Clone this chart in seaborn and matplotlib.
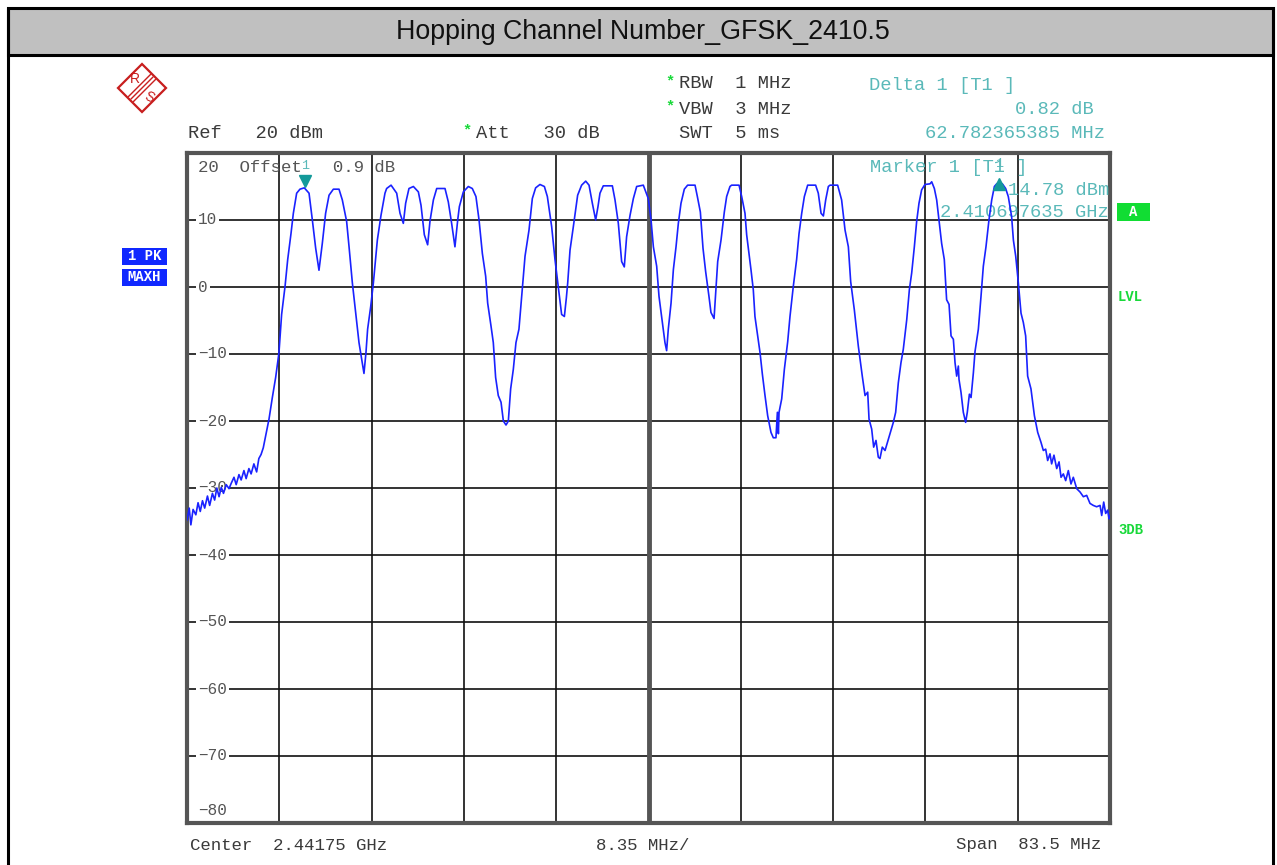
import matplotlib
matplotlib.use('Agg')
import matplotlib.pyplot as plt
import matplotlib.transforms as mtransforms
from matplotlib.patches import Rectangle, Polygon
import numpy as np
import pandas as pd
import seaborn as sns

sns.set_theme(style='white')
plt.rcParams['font.family'] = ['Liberation Mono', 'DejaVu Sans Mono']

# --- data (MHz, dBm) ---
start_mhz = 2400.0
span_mhz = 83.5
center_mhz = 2441.75

freq_mhz = [
    2400.00, 2400.20, 2400.35, 2400.55, 2400.80, 2401.00, 2401.20, 2401.40, 2401.60, 2401.85,
    2402.05, 2402.30, 2402.50, 2402.70, 2402.90, 2403.10, 2403.30, 2403.55, 2403.80, 2404.00,
    2404.25, 2404.45, 2404.70, 2404.90, 2405.15, 2405.35, 2405.60, 2405.80, 2406.05, 2406.30,
    2406.50, 2406.70, 2406.90,
    2407.06, 2407.42, 2407.72, 2408.02, 2408.32, 2408.56, 2408.87, 2409.11, 2409.41, 2409.62,
    2409.92, 2410.22, 2410.61, 2411.04, 2411.34, 2411.64, 2411.94, 2412.24, 2412.54, 2412.85,
    2413.24, 2413.75, 2414.05, 2414.44, 2414.66, 2414.96, 2415.26, 2415.56, 2415.86, 2416.01,
    2416.19, 2416.34, 2416.62, 2416.86, 2417.22, 2417.55, 2417.91, 2418.06, 2418.46, 2418.97,
    2419.27, 2419.57, 2419.78, 2420.08, 2420.48, 2420.93,
    2421.17, 2421.47, 2421.77, 2421.98, 2422.29, 2422.59, 2423.34, 2423.64, 2423.94, 2424.24,
    2424.49, 2424.64, 2425.00, 2425.45, 2425.81, 2426.14, 2426.42, 2426.72, 2427.02, 2427.20,
    2427.50, 2427.71, 2427.92, 2428.16, 2428.41, 2428.62, 2428.86, 2429.07, 2429.28, 2429.52,
    2429.76, 2430.03, 2430.28, 2430.58, 2430.94, 2431.24, 2431.54, 2431.93, 2432.33, 2432.60,
    2432.99, 2433.29, 2433.65, 2433.89, 2434.14, 2434.32, 2434.44, 2434.65, 2434.95, 2435.34,
    2435.70, 2436.07, 2436.37, 2436.67, 2436.97, 2437.18, 2437.36, 2437.66, 2438.48, 2438.72,
    2439.02, 2439.32, 2439.56, 2439.77, 2440.08, 2440.38, 2440.68, 2441.28, 2441.73,
    2441.98, 2442.19, 2442.49, 2442.70, 2443.00, 2443.24, 2443.39, 2443.54, 2443.79, 2444.00,
    2444.24, 2444.45, 2444.69, 2444.99, 2445.29, 2445.96, 2446.17, 2446.44, 2446.68, 2446.92,
    2447.22, 2447.40, 2447.68, 2447.83, 2448.01, 2448.31, 2448.61, 2448.82, 2449.12, 2449.27,
    2449.94, 2450.18, 2450.48, 2450.63, 2451.02, 2451.23, 2451.38, 2451.63, 2451.84, 2452.05,
    2452.29, 2452.53, 2452.83, 2453.04, 2453.28, 2453.41, 2453.50, 2453.56, 2453.80, 2454.04,
    2454.34, 2454.55, 2454.85, 2455.15, 2455.37, 2455.61, 2455.85, 2456.15, 2456.87, 2457.11,
    2457.36, 2457.57, 2457.78, 2458.02, 2458.17, 2458.86, 2459.22, 2459.53, 2459.83, 2460.04,
    2460.37, 2460.73, 2461.09, 2461.34, 2461.58, 2461.70, 2461.94, 2462.12, 2462.33, 2462.54,
    2462.69, 2462.90, 2463.15, 2463.45, 2463.90, 2464.11, 2464.35, 2464.59, 2464.80, 2465.11,
    2465.35, 2465.56, 2465.80, 2466.01, 2466.22, 2466.46, 2466.76, 2467.22, 2467.37, 2467.61,
    2467.82, 2468.03, 2468.27, 2468.51, 2468.72, 2468.94, 2469.12, 2469.33, 2469.48, 2469.63,
    2469.78, 2469.84, 2470.02, 2470.23, 2470.44, 2470.59, 2470.78, 2470.93, 2471.14, 2471.29,
    2471.59, 2471.83, 2472.04, 2472.28, 2472.55, 2472.80, 2473.04, 2473.25, 2473.46, 2473.76,
    2474.06, 2474.30, 2474.60, 2474.76, 2474.97, 2475.21, 2475.45, 2475.66, 2475.87, 2476.05,
    2476.35, 2476.66, 2476.96, 2477.26, 2477.47, 2477.68, 2477.86, 2478.07, 2478.22, 2478.43,
    2478.68, 2478.89, 2479.07, 2479.28, 2479.49, 2479.73, 2479.97, 2480.18, 2480.49, 2480.79,
    2481.09, 2481.39, 2481.69, 2481.99, 2482.29, 2482.60, 2482.75, 2482.93, 2483.11, 2483.29,
    2483.41, 2483.50,
]

level_dbm = [
    -34.8, -33.0, -35.5, -33.2, -34.0, -32.2, -33.5, -31.9, -33.0, -31.2,
    -32.6, -30.8, -31.8, -30.0, -31.3, -29.9, -30.8, -29.5, -30.1, -29.3,
    -28.4, -29.5, -28.0, -28.8, -27.4, -28.6, -27.1, -27.9, -26.4, -27.6,
    -25.6, -25.0, -24.0,
    -22.7, -19.7, -16.5, -13.5, -9.8, -4.1, 0.1, 4.1, 8.0, 11.0,
    14.0, 14.6, 14.8, 14.0, 10.0, 5.8, 2.5, 6.5, 11.0, 13.7,
    14.6, 14.6, 13.0, 9.8, 6.0, 0.6, -3.9, -8.3, -11.3, -12.9,
    -9.8, -6.3, -2.9, 0.6, 7.0, 10.7, 14.0, 14.7, 15.2, 14.0,
    11.0, 9.5, 12.5, 14.7, 15.0, 14.2,
    12.2, 7.8, 6.3, 9.8, 13.0, 14.7, 14.7, 12.7, 9.5, 6.0,
    10.0, 12.0, 14.2, 15.0, 14.7, 13.5, 10.0, 5.0, 1.6, -2.4,
    -5.8, -8.3, -13.5, -16.2, -17.2, -20.0, -20.6, -20.0, -15.2, -12.3,
    -8.3, -6.3, -1.4, 4.6, 8.5, 13.2, 14.8, 15.3, 15.0, 13.5,
    9.0, 4.1, -0.9, -4.1, -4.4, -1.6, 0.6, 5.5, 9.0, 13.7,
    15.2, 15.8, 15.2, 12.5, 10.0, 12.0, 14.0, 15.1, 15.1, 13.0,
    9.5, 3.8, 3.0, 7.5, 10.7, 13.2, 15.0, 15.2, 13.2,
    10.0, 6.0, 3.1, -1.4, -5.3, -8.3, -9.5, -6.3, -2.4, 2.6,
    6.0, 9.5, 12.5, 14.6, 15.2, 15.2, 13.5, 11.2, 5.8, 2.3,
    -1.4, -3.8, -4.7, -0.9, 3.8, 7.0, 11.2, 13.5, 15.0, 15.2,
    15.2, 13.5, 11.0, 7.8, 2.6, -0.4, -4.4, -7.3, -9.8, -13.0,
    -16.2, -19.2, -21.7, -22.5, -22.5, -18.7, -21.9, -18.7, -16.7, -12.3,
    -8.2, -4.4, 0.1, 4.1, 8.0, 11.0, 13.5, 15.2, 15.2, 14.0,
    11.0, 10.6, 13.0, 15.0, 15.2, 15.2, 13.0, 8.5, 6.0, 0.8,
    -3.4, -8.8, -13.3, -16.2, -15.7, -19.7, -21.2, -23.9, -22.9, -25.4,
    -25.6, -23.9, -24.4, -22.7, -20.2, -18.7, -14.3, -11.3, -9.3, -4.9,
    -0.4, 2.1, 6.0, 9.8, 12.5, 14.5, 15.3, 15.4, 15.7, 14.7,
    13.0, 10.0, 6.5, 4.1, -1.9, -2.6, -7.3, -7.8, -11.3, -13.3,
    -11.8, -13.8, -15.7, -18.7, -20.2, -18.7, -16.0, -16.5, -12.8, -9.6,
    -6.3, -1.4, 3.1, 6.0, 10.0, 13.0, 15.0, 15.4, 15.6, 15.4,
    14.7, 13.5, 10.5, 7.0, 4.6, 0.6, -3.9, -5.3, -7.3, -13.3,
    -15.2, -19.2, -21.7, -23.2, -24.4, -24.2, -25.9, -24.9, -26.4, -25.1,
    -27.1, -26.1, -28.4, -27.9, -28.9, -27.4, -29.4, -28.4, -30.1, -30.6,
    -31.3, -31.1, -32.3, -32.6, -32.8, -32.6, -34.1, -32.1, -33.8, -33.3,
    -34.6, -34.1,
]

y_ticks = [10, 0, -10, -20, -30, -40, -50, -60, -70, -80]

marker1_freq = 2410.697635
marker1_level = 14.78
delta1_freq_offset = 62.782365385
delta1_level_offset = 0.82

# --- figure in pixel units ---
W, H = 1277, 865
fig = plt.figure(figsize=(W / 100, H / 100), dpi=100)
fig.patch.set_facecolor('white')


def fx(x):
    return x / W


def fy(y):
    return 1 - y / H


# frame and title bar
fig.add_artist(Rectangle((fx(8), fy(55)), fx(1273) - fx(8), fy(8) - fy(55),
                         transform=fig.transFigure, facecolor='#c0c0c0',
                         edgecolor='black', lw=2.2))
for xx in (8, 1273):
    fig.add_artist(plt.Line2D([fx(xx), fx(xx)], [fy(8), 0], transform=fig.transFigure,
                              color='black', lw=2.2))
fig.text(fx(643), fy(32), 'Hopping Channel Number_GFSK_2410.5', ha='center', va='center',
         fontsize=19.3, color='#111111', family='Liberation Sans')

# R&S logo
red = '#c81e1e'
cx, cy, r = 142, 88, 24
fig.add_artist(Polygon([(fx(cx), fy(cy - r)), (fx(cx + r), fy(cy)), (fx(cx), fy(cy + r)),
                        (fx(cx - r), fy(cy))], closed=True, transform=fig.transFigure,
                       facecolor='white', edgecolor=red, lw=1.6))
for d in (-2.5, 0, 2.5):
    fig.add_artist(plt.Line2D([fx(cx + 11 + d), fx(cx - 11 + d)],
                              [fy(cy - 11 + d), fy(cy + 11 + d)],
                              transform=fig.transFigure, color=red, lw=1.0))
fig.text(fx(cx - 7), fy(cy - 9), 'R', color=red, fontsize=10, ha='center', va='center',
         family='Liberation Sans')
fig.text(fx(cx + 7), fy(cy + 9), 'S', color=red, fontsize=10, ha='center', va='center',
         family='Liberation Sans', rotation=-25)

# header texts
dark = '#3a3a3a'
cyan = '#5ab9b9'
green = '#19d93a'
fs = 13.5
fig.text(fx(188), fy(133), 'Ref   20 dBm', fontsize=fs, color=dark, va='center')
fig.text(fx(462), fy(130), '*', fontsize=11, color=green, va='center', weight='bold')
fig.text(fx(476), fy(133), 'Att   30 dB', fontsize=fs, color=dark, va='center')
fig.text(fx(665), fy(81), '*', fontsize=11, color=green, va='center', weight='bold')
fig.text(fx(679), fy(84), 'RBW  1 MHz', fontsize=fs, color=dark, va='center')
fig.text(fx(665), fy(106), '*', fontsize=11, color=green, va='center', weight='bold')
fig.text(fx(679), fy(109), 'VBW  3 MHz', fontsize=fs, color=dark, va='center')
fig.text(fx(679), fy(133), 'SWT  5 ms', fontsize=fs, color=dark, va='center')
fig.text(fx(869), fy(86), 'Delta 1 [T1 ]', fontsize=fs, color=cyan, va='center')
fig.text(fx(1094), fy(109), f'{delta1_level_offset:.2f} dB', fontsize=fs, color=cyan,
         va='center', ha='right')
fig.text(fx(1105), fy(133), f'{delta1_freq_offset:.9f} MHz', fontsize=fs, color=cyan,
         va='center', ha='right')

# axes
ax = fig.add_axes([fx(187), fy(823), fx(1110) - fx(187), fy(153) - fy(823)])
df = pd.DataFrame({'freq': freq_mhz, 'level': level_dbm})
sns.lineplot(data=df, x='freq', y='level', ax=ax, color='#1a22ff', lw=1.2,
             sort=False, estimator=None, zorder=5)
ax.set_xlim(start_mhz, start_mhz + span_mhz)
ax.set_ylim(-80, 20)
ax.set_xticks(np.linspace(start_mhz, start_mhz + span_mhz, 11))
ax.set_yticks(range(-80, 21, 10))
ax.set_axisbelow(True)
ax.grid(True, color='#111111', lw=1.2)
ax.tick_params(length=0, labelbottom=False, labelleft=False)
ax.set_xlabel('')
ax.set_ylabel('')
for sp in ax.spines.values():
    sp.set_color('#555555')
    sp.set_linewidth(3)
ax.axvline(center_mhz, color='#555555', lw=3.5, zorder=0.6)

trans = mtransforms.blended_transform_factory(ax.transAxes, ax.transData)
for v in y_ticks:
    lab = str(v).replace('-', '\u2212')
    if v == -80:
        ax.text(0.012, -78.2, lab, transform=trans, ha='left', va='center', fontsize=11.5,
                color='#555555', zorder=3)
    else:
        ax.text(0.012, v, lab, transform=trans, ha='left', va='center', fontsize=11.5,
                color='#555555', zorder=3,
                bbox=dict(facecolor='white', edgecolor='none', pad=1.5))
ax.text(0.012, 17.9, '20  Offset   0.9 dB', transform=trans, ha='left', va='center',
        fontsize=12.5, color='#555555', zorder=3)

# markers
ax.plot([marker1_freq], [marker1_level + 1.1], marker='v', color='#139a9a', ms=8, zorder=6)
ax.text(marker1_freq, marker1_level + 3.3, '1', color=cyan, fontsize=9.5, ha='center',
        va='center', zorder=6)
d1_freq = marker1_freq + delta1_freq_offset
d1_level = marker1_level + delta1_level_offset
ax.plot([d1_freq], [d1_level - 0.2], marker='^', color='#139a9a', ms=8, zorder=6)
ax.text(d1_freq, d1_level + 2.7, '1', color=cyan, fontsize=9.5, ha='center', va='center',
        zorder=6)
ax.text(0.74, 17.9, 'Marker 1 [T1 ]', transform=trans, fontsize=fs, color=cyan, va='center',
        zorder=4)
ax.text(0.999, 14.4, f'{marker1_level:.2f} dBm', transform=trans, fontsize=fs, color=cyan,
        va='center', ha='right', zorder=4)
ax.text(0.999, 11.1, f'{marker1_freq / 1000:.9f} GHz', transform=trans, fontsize=fs,
        color=cyan, va='center', ha='right', zorder=4)

# side labels
blue = '#1028ff'
for txt, y0 in (('1 PK', 248), ('MAXH', 269)):
    fig.add_artist(Rectangle((fx(122), fy(y0 + 17)), fx(167) - fx(122), fy(y0) - fy(y0 + 17),
                             transform=fig.transFigure, facecolor=blue, edgecolor='none'))
    fig.text(fx(144.5), fy(y0 + 8.5), txt, color='white', fontsize=10, weight='bold',
             ha='center', va='center')
fig.add_artist(Rectangle((fx(1117), fy(221)), fx(1150) - fx(1117), fy(203) - fy(221),
                         transform=fig.transFigure, facecolor='#11dd33', edgecolor='none'))
fig.text(fx(1133.5), fy(212), 'A', color='white', fontsize=10, weight='bold',
         ha='center', va='center')
fig.text(fx(1118), fy(297), 'LVL', color=green, fontsize=10, weight='bold', va='center')
fig.text(fx(1118), fy(530), '3DB', color=green, fontsize=10, weight='bold', va='center')

# footer
fig.text(fx(190), fy(845), f'Center  {center_mhz / 1000:.5f} GHz', fontsize=12.5, color=dark,
         va='center')
fig.text(fx(596), fy(845), f'{span_mhz / 10:.2f} MHz/', fontsize=12.5, color=dark, va='center')
fig.text(fx(1101), fy(845), f'Span  {span_mhz:.1f} MHz', fontsize=12.5, color=dark,
         va='center', ha='right')

fig.savefig('out.png', dpi=100)
